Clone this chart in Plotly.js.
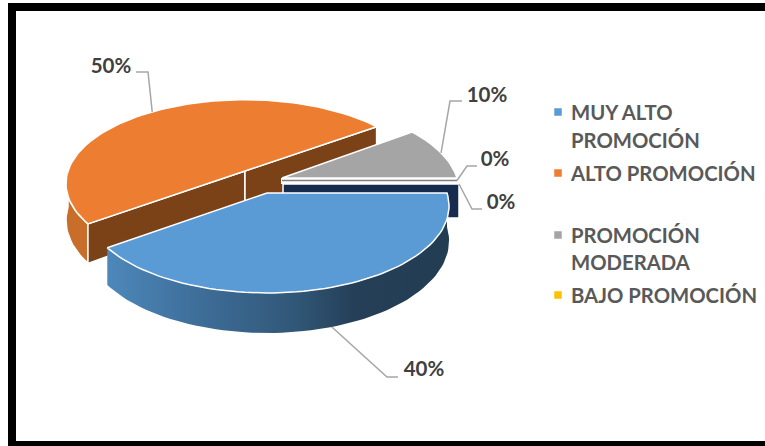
<!DOCTYPE html>
<html>
<head>
<meta charset="utf-8">
<script src="https://cdn.plot.ly/plotly-3.0.1.min.js"></script>
<style>html,body{margin:0;padding:0;background:#fff}#chart{width:765px;height:446px}</style>
</head>
<body>
<div id="chart"></div>
<script>
// Survey results
const categories = ['MUY ALTO<br>PROMOCIÓN', 'ALTO PROMOCIÓN', 'PROMOCIÓN<br>MODERADA', 'BAJO PROMOCIÓN', ''];
const percentages = [40, 50, 10, 0, 0];
const topColors = ['#5b9bd5', '#ed7d31', '#a5a5a5', '#7f7f7f', '#172b4f'];
const legendColors = ['#5b9bd5', '#ed7d31', '#a5a5a5', '#ffc000'];

// Tilted, exploded pie: where each wedge sits on the page
const placement = [
  {cx: 267, cy: 193, rx: 180, ry: 85, depth: 34},
  {cx: 245, cy: 171, rx: 177, ry: 82, depth: 36},
  {cx: 282, cy: 178, rx: 175, ry: 85, depth: 34},
  {cx: 282, cy: 180.5, rx: 175, ry: 85, depth: 34},
  {cx: 283, cy: 184, rx: 176, ry: 85, depth: 34}
];
const PERSPECTIVE = 0.15;

// Label elbow and text position for each wedge
const leaders = [
  {elbow: [[387, 377], [398, 377]], text: [424, 371], onWall: true},
  {elbow: [[148, 72], [136, 72]], text: [111, 67.5]},
  {elbow: [[450, 101], [462, 101]], text: [487, 97]},
  {elbow: [[467, 166], [477, 166]], text: [495, 161]},
  {elbow: [[472, 209], [482, 209]], text: [501, 204]}
];

const legendX = 558, legendTextX = 571;
const legendY = [112, 173, 235, 295];
const legendLineY = [[115, 143], [176], [238, 265], [298]];

function project(p, deg, r, drop) {
  const a = deg * Math.PI / 180;
  const X = Math.cos(a) * r, Y = Math.sin(a) * r;
  const f = 1 / (1 - PERSPECTIVE * Y);
  return [p.cx + p.rx * X * f, p.cy + p.ry * Y * f + (drop ? p.depth * f : 0)];
}
function arc(p, from, to, drop) {
  const pts = [], n = Math.max(1, Math.ceil(Math.abs(to - from) / 2));
  for (let i = 0; i <= n; i++) pts.push(project(p, from + (to - from) * i / n, 1, drop));
  return pts;
}
function polygon(pts, fill, extra) {
  const closed = pts.concat([pts[0]]);
  return Object.assign({
    type: 'scatter', mode: 'lines', x: closed.map(q => q[0]), y: closed.map(q => q[1]),
    fill: 'toself', fillcolor: fill, line: {color: '#ffffff', width: 1.5},
    hoverinfo: 'skip', showlegend: false
  }, extra || {});
}

// Cumulative wedge angles, clockwise from the east
const total = percentages.reduce((s, v) => s + v, 0);
let running = 0;
const wedges = percentages.map((v, i) => {
  const from = running * 360 / total;
  running += v;
  return {from, to: running * 360 / total, mid: (from + running * 360 / total) / 2, p: placement[i]};
});

const traces = [];
const BROWN = '#7b4217';
const blue = wedges[0], orange = wedges[1], gray = wedges[2], low = wedges[3], last = wedges[4];

// Orange wedge: outer wall, then the two cut faces
const oWall = arc(orange.p, orange.from, Math.min(orange.to, 180), false)
  .concat(arc(orange.p, Math.min(orange.to, 180), orange.from, true));
traces.push(polygon(oWall, '#c86e2a'));
const oc = [orange.p.cx, orange.p.cy], ocLow = [orange.p.cx, orange.p.cy + orange.p.depth];
traces.push(polygon([oc, project(orange.p, orange.from, 1), project(orange.p, orange.from, 1, true), ocLow], BROWN));
traces.push(polygon([oc, project(orange.p, orange.to % 360, 1), project(orange.p, orange.to % 360, 1, true), ocLow], BROWN));
// Orange top
traces.push(polygon([oc].concat(arc(orange.p, orange.from, orange.to)), topColors[1]));

// Gray wedge top
traces.push(polygon([[gray.p.cx, gray.p.cy]].concat(arc(gray.p, gray.from, gray.to)), topColors[2]));

// Empty wedges collapse to a hairline and a flat cut face, separated by a white gap
const lowEdge = project(low.p, low.mid, 1)[0];
traces.push({type: 'scatter', mode: 'lines', x: [low.p.cx - 1, lowEdge + 2], y: [low.p.cy + 0.5, low.p.cy + 0.5],
  line: {color: '#ffffff', width: 6}, hoverinfo: 'skip', showlegend: false});
traces.push({type: 'scatter', mode: 'lines', x: [low.p.cx, lowEdge], y: [low.p.cy, low.p.cy],
  line: {color: topColors[3], width: 1.5}, hoverinfo: 'skip', showlegend: false});
traces.push(polygon([[last.p.cx, last.p.cy], project(last.p, 0, 1), project(last.p, 0, 1, true), [last.p.cx, last.p.cy + last.p.depth]], topColors[4]));

// Blue wedge: shaded outer wall and top
const bWall = arc(blue.p, blue.from, blue.to, false).concat(arc(blue.p, blue.to, blue.from, true));
traces.push(polygon(bWall, '#33597e', {
  line: {width: 0, color: 'rgba(0,0,0,0)'},
  fillgradient: {type: 'horizontal', colorscale: [[0, '#4d88ba'], [0.25, '#3f6f9b'], [0.55, '#315777'], [0.72, '#253f58'], [1, '#223d52']]}
}));
traces.push(polygon([[blue.p.cx, blue.p.cy]].concat(arc(blue.p, blue.from, blue.to)), topColors[0]));

// Leader lines and value labels
wedges.forEach((w, i) => {
  const l = leaders[i];
  const start = project(w.p, w.mid, 1, !!l.onWall);
  const pts = [start].concat(l.elbow);
  traces.push({type: 'scatter', mode: 'lines', x: pts.map(q => q[0]), y: pts.map(q => q[1]),
    line: {color: '#a6a6a6', width: 1.5}, hoverinfo: 'skip', showlegend: false});
});
traces.push({type: 'scatter', mode: 'text', x: leaders.map(l => l.text[0]), y: leaders.map(l => l.text[1]),
  text: percentages.map(v => v + '%'), textposition: 'middle center',
  textfont: {family: 'Lato, sans-serif', size: 20.5, weight: 700, color: '#404040'},
  hoverinfo: 'skip', showlegend: false});

// Hand-placed key, one text point per printed line
traces.push({type: 'scatter', mode: 'markers', x: legendColors.map(() => legendX), y: legendY,
  marker: {symbol: 'square', size: 7.5, color: legendColors, line: {width: 0}},
  hoverinfo: 'skip', showlegend: false});
const keyLines = categories.slice(0, 4).flatMap((c, i) =>
  c.split('<br>').map((text, j) => ({text, y: legendLineY[i][j]})));
traces.push({type: 'scatter', mode: 'text', x: keyLines.map(() => legendTextX), y: keyLines.map(k => k.y),
  text: keyLines.map(k => k.text), textposition: 'middle right',
  textfont: {family: 'Lato, sans-serif', size: 20.3, weight: 700, color: '#595959'},
  hoverinfo: 'skip', showlegend: false});

// Page frame, open on the right
const bar = (x0, y0, x1, y1) => ({type: 'rect', xref: 'x', yref: 'y', x0, y0, x1, y1,
  fillcolor: '#000000', line: {width: 0}});

const layout = {
  width: 765, height: 446, margin: {l: 0, r: 0, t: 0, b: 0},
  paper_bgcolor: '#ffffff', plot_bgcolor: '#ffffff', showlegend: false,
  xaxis: {range: [0, 765], visible: false, fixedrange: true},
  yaxis: {range: [446, 0], visible: false, fixedrange: true},
  shapes: [bar(8, 3, 765, 11), bar(8, 3, 16, 446), bar(8, 441, 765, 446)]
};
Plotly.newPlot('chart', traces, layout, {displayModeBar: false, staticPlot: true});
</script>
</body>
</html>
